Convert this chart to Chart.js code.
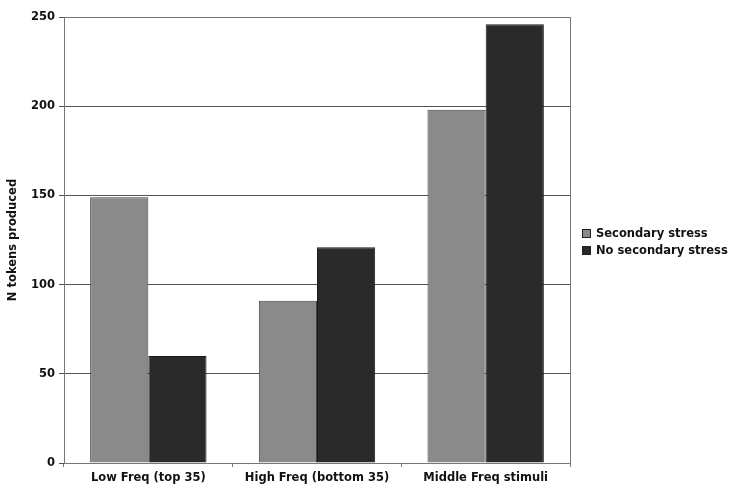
<!DOCTYPE html>
<html>
    <head>
        <title>N tokens produced</title>
        <style>
            body { margin: 0; background: #fff; }
            #wrap { position: relative; width: 732px; height: 491px; }
            #legend { position: absolute; left: 582px; top: 226px; font: bold 11.5px "DejaVu Sans", Verdana, sans-serif; color: #111; }
            #legend div { height: 17px; line-height: 14px; white-space: nowrap; }
            #legend span { display: inline-block; width: 9px; height: 9px; margin-right: 5px; border: 1px solid #222; box-sizing: border-box; vertical-align: -1px; }
        </style>
    </head>
    <body>
        <div id="wrap">
            <canvas id="chart" width="732" height="491"></canvas>
            <div id="legend"></div>
        </div>

        <script src="https://cdn.jsdelivr.net/npm/chart.js"></script>
        <script>
            const categories = ['Low Freq (top 35)', 'High Freq (bottom 35)', 'Middle Freq stimuli'];
            const secondary = [149, 91, 198];
            const noSecondary = [60, 121, 246];
            const seriesNames = ['Secondary stress', 'No secondary stress'];
            const seriesColors = ['#8a8a8a', '#2a2a2a'];
            const yTicks = [0, 50, 100, 150, 200, 250];

            const font = { family: '"DejaVu Sans", Verdana, sans-serif', size: 11.5, weight: 'bold' };

            // legend as html, the canvas one can't be placed where the reference has it
            const legend = document.querySelector('#legend');
            seriesNames.forEach((name, i) => {
                const row = document.createElement('div');
                row.innerHTML = `<span style="background:${seriesColors[i]}"></span>${name}`;
                legend.appendChild(row);
            });

            // frame round the plot area
            const frame = {
                id: 'frame',
                afterDatasetsDraw(chart) {
                    const { ctx, chartArea: a } = chart;
                    ctx.save();
                    ctx.strokeStyle = '#777';
                    ctx.lineWidth = 1;
                    ctx.strokeRect(a.left + 0.5, a.top + 0.5, a.right - a.left, a.bottom - a.top);
                    ctx.restore();
                }
            };

            new Chart(document.querySelector('#chart'), {
                type: 'bar',
                data: {
                    labels: categories,
                    datasets: [
                        { label: seriesNames[0], data: secondary, backgroundColor: seriesColors[0], borderColor: '#444', borderWidth: 1 },
                        { label: seriesNames[1], data: noSecondary, backgroundColor: seriesColors[1], borderColor: '#1a1a1a', borderWidth: 1 }
                    ]
                },
                options: {
                    responsive: false,
                    animation: false,
                    layout: { padding: { left: 6, top: 17, right: 162, bottom: 2 } },
                    plugins: { legend: { display: false }, tooltip: { enabled: false } },
                    datasets: { bar: { categoryPercentage: 0.69, barPercentage: 1 } },
                    scales: {
                        x: {
                            afterFit: scale => { scale.height = 26; },
                            grid: { drawOnChartArea: false, offset: true, tickLength: 4, color: '#777' },
                            border: { color: '#777' },
                            ticks: { color: '#111', font: font, padding: 4, maxRotation: 0 }
                        },
                        y: {
                            min: 0,
                            max: 250,
                            afterBuildTicks: scale => { scale.ticks = yTicks.map(v => ({ value: v })); },
                            afterFit: scale => { scale.width = 58; },
                            grid: { color: '#555', tickLength: 5 },
                            border: { color: '#777' },
                            ticks: { color: '#111', font: font, padding: 4 },
                            title: { display: true, text: 'N tokens produced', color: '#111', font: font, padding: 0 }
                        }
                    }
                },
                plugins: [frame]
            });
        </script>
    </body>
</html>
